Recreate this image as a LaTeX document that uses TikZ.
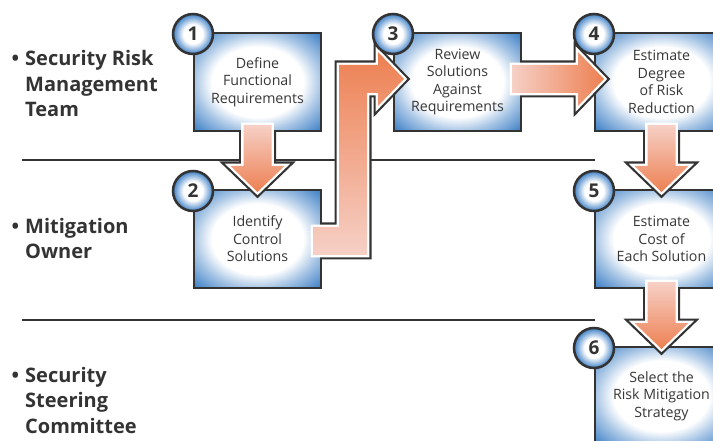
\documentclass[tikz,border=0pt]{standalone}
\usepackage{fontspec}
\setmainfont{Open Sans}
\usetikzlibrary{calc}
\definecolor{boxblue}{RGB}{62,128,198}
\definecolor{arrowpale}{RGB}{246,208,198}
\definecolor{arroworange}{RGB}{237,128,82}
\definecolor{darkline}{RGB}{51,51,51}
\definecolor{boxtext}{RGB}{55,55,55}
\pgfdeclareradialshading{boxglow}{\pgfpoint{0bp}{0bp}}{color(0bp)=(white); color(18bp)=(white); color(25bp)=(boxblue!45); color(34bp)=(boxblue!95); color(50bp)=(boxblue)}
\pgfdeclareradialshading{badgeglow}{\pgfpoint{0bp}{0bp}}{color(0bp)=(white); color(12bp)=(white); color(25bp)=(boxblue); color(50bp)=(boxblue)}
\tikzset{
  stepbox/.style={draw=darkline, line width=2pt, shade, shading=boxglow, minimum height=98pt, inner sep=0pt, outer sep=0pt, align=center, text=boxtext, font=\fontsize{14.2}{17.5}\selectfont},
  badge/.style={circle, draw=darkline, line width=2.5pt, shade, shading=badgeglow, minimum size=40pt, inner sep=0pt, text=darkline, font=\bfseries\fontsize{19}{19}\selectfont},
  lanelabel/.style={anchor=base west, align=left, inner sep=0pt, text=darkline, font=\bfseries\fontsize{20}{25.5}\selectfont},
  laneline/.style={draw=darkline, line width=2pt},
  arrowline/.style={draw=darkline, line width=9pt},
  arrowfill/.style={preaction={draw=white, line width=4.6pt}}
}
\begin{document}
\begin{tikzpicture}[x=1pt, y=-1pt]
\useasboundingbox (0,0) rectangle (713,441);
\clip (0,0) rectangle (713,441);
% lanes (label nodes sit on the baseline of their last line)
\foreach \y in {160,320} {
 \draw[laneline] (22,\y) -- (595,\y);
}
\node[lanelabel] (team) at (25,117) {\llap{•\hspace{6pt}}Security Risk\\Management\\Team};
\node[lanelabel] (owner) at (25,258.5) {\llap{•\hspace{6pt}}Mitigation\\Owner};
\node[lanelabel] (committee) at (25,433) {\llap{•\hspace{6pt}}Security\\Steering\\Committee};
% steps
\node[stepbox, minimum width=127pt] (define) at (257.5,82) {Define\\Functional\\Requirements};
\node[stepbox, minimum width=127pt] (identify) at (257.5,239) {Identify\\Control\\Solutions};
\node[stepbox, minimum width=127pt] (review) at (457.5,82) {Review\\Solutions\\Against\\Requirements};
\node[stepbox, minimum width=133pt] (degree) at (661.5,82) {Estimate\\Degree\\of Risk\\Reduction};
\node[stepbox, minimum width=133pt] (cost) at (661.5,239) {Estimate\\Cost of\\Each Solution};
\node[stepbox, minimum width=133pt] (select) at (661.5,396) {Select the\\Risk Mitigation\\Strategy};
% down arrows
\foreach \a/\b in {define/identify, degree/cost, cost/select} {
 \draw[arrowline] ($(\a.south)+(-14,0)$) -- ($(\b.north)+(-14,-24)$) -- ++(-13,0) -- ($(\b.north)+(0,2)$) -- ($(\b.north)+(27,-24)$) -- ++(-13,0) -- ($(\a.south)+(14,0)$);
 \path[arrowfill, top color=arrowpale, bottom color=arroworange] ($(\a.south)+(-14,-6)$) -- ($(\b.north)+(-14,-24)$) -- ++(-13,0) -- ($(\b.north)+(0,2)$) -- ($(\b.north)+(27,-24)$) -- ++(-13,0) -- ($(\a.south)+(14,-6)$) -- cycle;
}
% right arrow 3 -> 4
\draw[arrowline] ($(review.east)+(0,-17)$) -- ($(degree.west)+(-17,-17)$) -- ++(0,-13) -- ($(degree.west)+(9,-3)$) -- ($(degree.west)+(-17,24)$) -- ++(0,-13) -- ($(review.east)+(0,11)$);
\path[arrowfill, left color=arrowpale, right color=arroworange] ($(review.east)+(-9,-17)$) -- ($(degree.west)+(-17,-17)$) -- ++(0,-13) -- ($(degree.west)+(9,-3)$) -- ($(degree.west)+(-17,24)$) -- ++(0,-13) -- ($(review.east)+(-9,11)$) -- cycle;
% elbow arrow 2 -> 3
\draw[arrowline] ($(identify.east)+(0,-12)$) -- ++(18,0) |- ($(review.west)+(-16,-17)$) -- ++(0,-13) -- ($(review.west)+(10,-3)$) -- ($(review.west)+(-16,24)$) -- ++(0,-13) -| ($(identify.east)+(46,16)$) -- ++(-46,0);
\path[arrowfill, top color=arroworange, bottom color=arrowpale] ($(identify.east)+(-8,-12)$) -- ++(26,0) |- ($(review.west)+(-16,-17)$) -- ++(0,-13) -- ($(review.west)+(10,-3)$) -- ($(review.west)+(-16,24)$) -- ++(0,-13) -| ($(identify.east)+(46,16)$) -- ++(-54,0) -- cycle;
% numbers
\foreach \b/\n in {define/1, identify/2, review/3, degree/4, cost/5, select/6} {
 \node[badge] (badge\n) at ([shift={(-1,1)}]\b.north west) {\n};
}
\end{tikzpicture}
\end{document}
